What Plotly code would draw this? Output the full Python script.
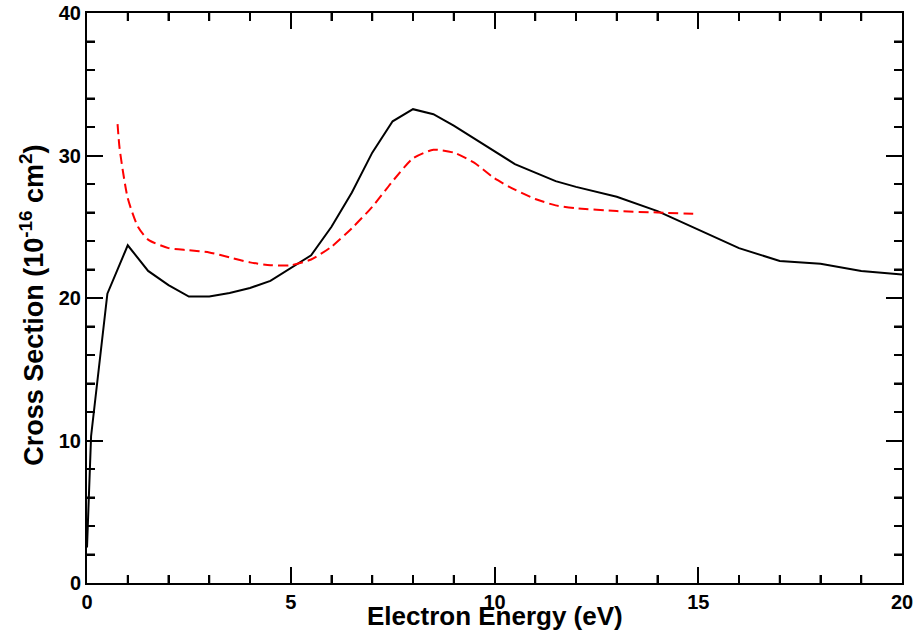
import plotly.graph_objects as go

# Black solid curve
energy_a = [0, 0.1, 0.5, 1, 1.5, 2, 2.5, 3, 3.5, 4, 4.5, 5, 5.5, 6, 6.5, 7, 7.5, 8,
            8.5, 9, 9.5, 10, 10.5, 11, 11.5, 12, 13, 14, 15, 16, 17, 18, 19, 20]
sigma_a = [2.5, 10.3, 20.3, 23.7, 21.9, 20.9, 20.1, 20.1, 20.35, 20.7, 21.2, 22.1, 23.0,
           25.0, 27.4, 30.2, 32.4, 33.25, 32.9, 32.1, 31.2, 30.3, 29.4, 28.8, 28.2, 27.8,
           27.1, 26.1, 24.8, 23.5, 22.6, 22.4, 21.9, 21.65]

# Red dashed curve
energy_b = [0.75, 0.8, 1.0, 1.25, 1.5, 2.0, 2.5, 3.0, 3.5, 4.0, 4.5, 5.0, 5.5, 6.0, 6.5,
            7.0, 7.5, 8.0, 8.5, 9.0, 9.5, 10.0, 10.5, 11.0, 11.5, 12.0, 13.0, 14.0, 15.0]
sigma_b = [32.2, 30.5, 27.0, 25.0, 24.1, 23.5, 23.35, 23.2, 22.85, 22.5, 22.3, 22.3, 22.7,
           23.6, 24.9, 26.4, 28.2, 29.8, 30.4, 30.2, 29.5, 28.4, 27.6, 26.95, 26.5, 26.3,
           26.1, 26.0, 25.9]

x_range = [0, 20]
y_range = [0, 40]
x_major, x_minor = 5, 1
y_major, y_minor = 10, 2
x_title = "Electron Energy (eV)"
y_title = "Cross Section (10<sup>-16</sup> cm<sup>2</sup>)"

fig = go.Figure()
fig.add_trace(go.Scatter(x=energy_a, y=sigma_a, mode="lines",
                         line=dict(color="black", width=2), showlegend=False))
fig.add_trace(go.Scatter(x=energy_b, y=sigma_b, mode="lines",
                         line=dict(color="red", width=2, dash="10px,5px", shape="spline", smoothing=0.6),
                         showlegend=False))

font = dict(family="Liberation Sans, Arial, sans-serif", size=20, color="black", weight="bold")
tfont = dict(family="Liberation Sans, Arial, sans-serif", size=26, color="black", weight="bold")

common = dict(showgrid=False, zeroline=False,
              showline=True, linecolor="black", linewidth=2, mirror="ticks",
              ticks="inside", ticklen=16, tickwidth=2, tickcolor="black",
              tickfont=font, automargin=False, tickmode="linear", tick0=0)

fig.update_layout(
    width=918, height=640,
    margin=dict(l=87, r=16, t=13, b=57),
    paper_bgcolor="white", plot_bgcolor="white",
    font=font,
    xaxis=dict(range=x_range, dtick=x_major,
               minor=dict(dtick=x_minor, ticks="inside", ticklen=8, tickwidth=2, tickcolor="black"),
               **common),
    yaxis=dict(range=y_range, dtick=y_major,
               minor=dict(dtick=y_minor, ticks="inside", ticklen=8, tickwidth=2, tickcolor="black"),
               **common),
)

# minor ticks also as explicit shapes on all four sides (inside), ~8 px long
tick_line = dict(color="black", width=2)
for v in range(x_range[0] + x_minor, x_range[1], x_minor):
    if v % x_major == 0:
        continue
    fig.add_shape(type="line", xref="x", yref="paper", x0=v, x1=v, y0=0, y1=0.014, line=tick_line)
    fig.add_shape(type="line", xref="x", yref="paper", x0=v, x1=v, y0=1, y1=0.986, line=tick_line)
for v in range(y_range[0] + y_minor, y_range[1], y_minor):
    if v % y_major == 0:
        continue
    fig.add_shape(type="line", xref="paper", yref="y", y0=v, y1=v, x0=0, x1=0.0098, line=tick_line)
    fig.add_shape(type="line", xref="paper", yref="y", y0=v, y1=v, x0=1, x1=0.9902, line=tick_line)

fig.add_annotation(text=x_title, xref="paper", yref="paper", x=0.5, y=-0.058,
                   xanchor="center", yanchor="middle", showarrow=False, font=tfont)
fig.add_annotation(text=y_title, xref="paper", yref="paper", x=-0.0675, y=0.488,
                   xanchor="center", yanchor="middle", showarrow=False,
                   font=dict(tfont, size=27), textangle=-90)

fig.write_html("out.html")
